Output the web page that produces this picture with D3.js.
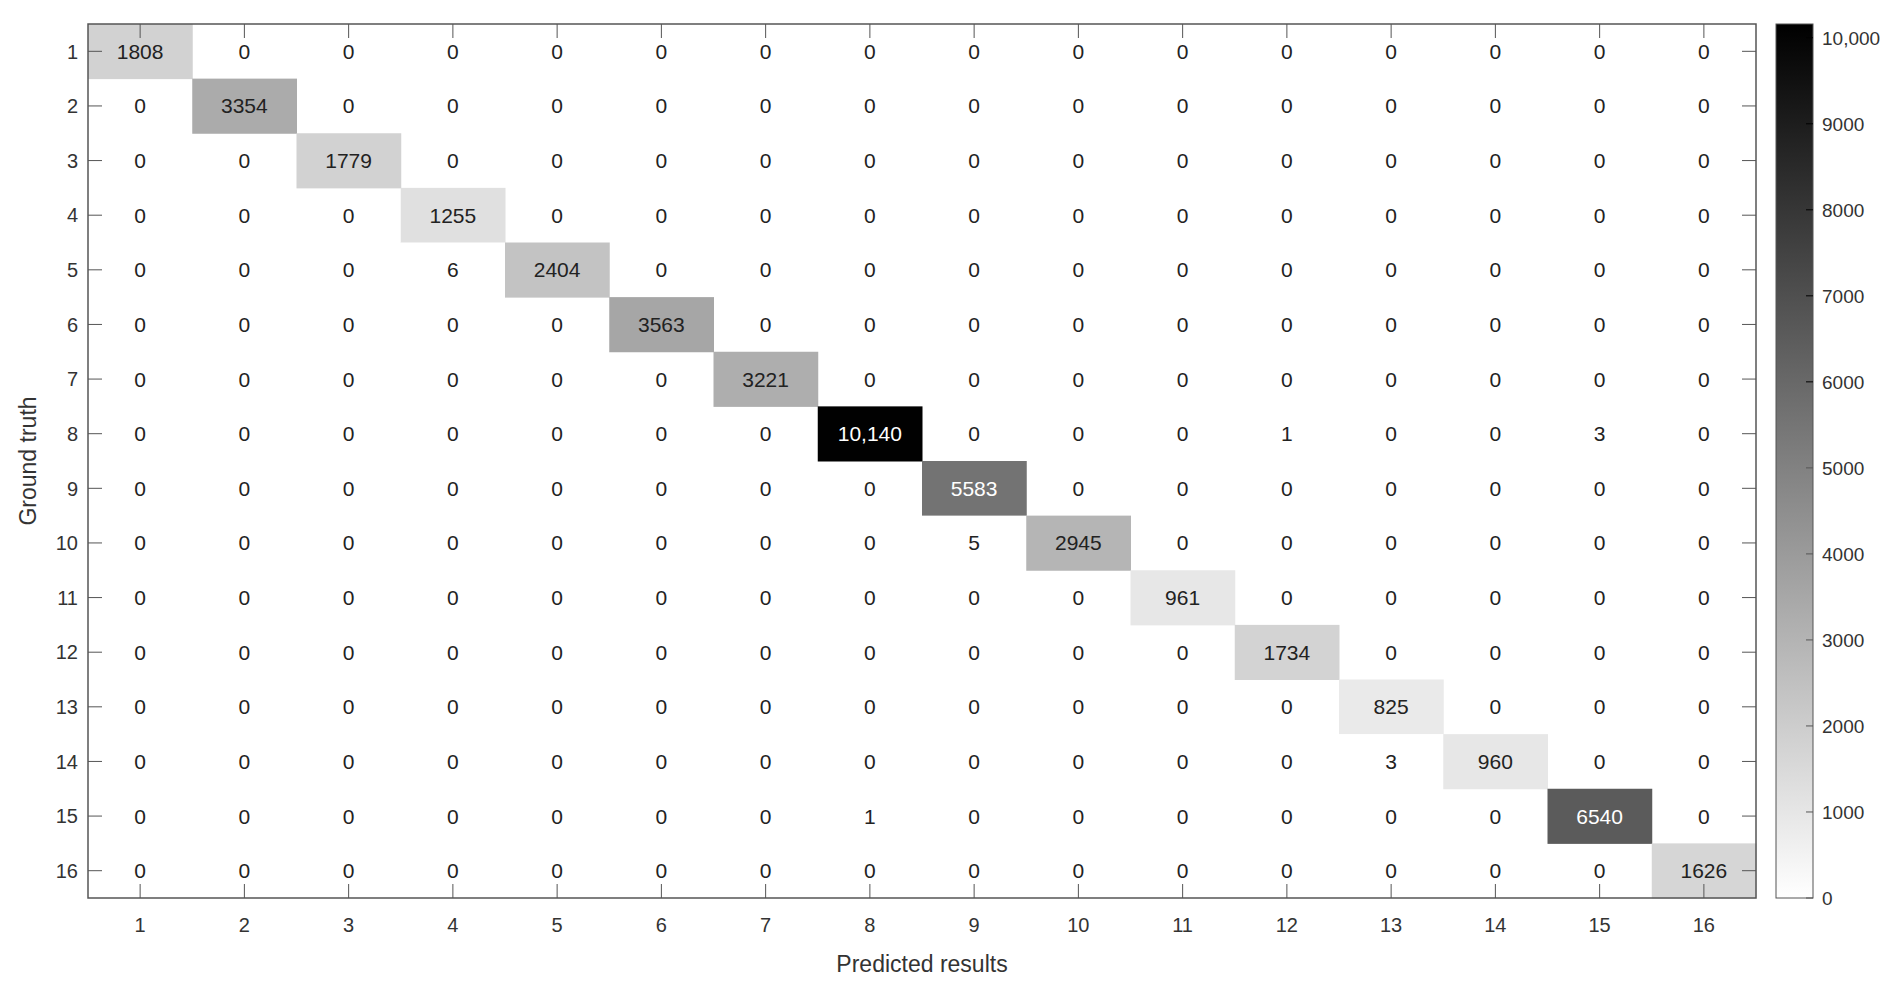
<!DOCTYPE html>
<html><head><meta charset="utf-8">
<script src="https://cdn.jsdelivr.net/npm/d3@7"></script>
<style>body{margin:0;background:#fff}svg{display:block}text{font-family:"Liberation Sans",Arial,sans-serif}</style>
</head><body><svg id="c" width="1899" height="988"></svg>
<script>
const classes = d3.range(1,17);
const diagonal = [1808,3354,1779,1255,2404,3563,3221,10140,5583,2945,961,1734,825,960,6540,1626];
// off-diagonal non-zero entries: [row, col, value]
const offDiag = [[5,4,6],[8,12,1],[8,15,3],[10,9,5],[14,13,3],[15,8,1]];
const cbTicks = [0,1000,2000,3000,4000,5000,6000,7000,8000,9000,10000];

const matrix = classes.map((r,i)=>classes.map((c,j)=> i===j?diagonal[i]:0));
offDiag.forEach(([r,c,v])=>{matrix[r-1][c-1]=v;});

const svg=d3.select("#c");
const L=88,T=24,R=1756,B=898;
const x=d3.scaleBand().domain(classes).range([L,R]);
const y=d3.scaleBand().domain(classes).range([T,B]);
const vmax=10160;
const color=v=>{const g=Math.round(255*(1-v/vmax));return `rgb(${g},${g},${g})`;};
const fmt=v=>v>=10000?d3.format(",")(v):String(v);
const cells=[];
matrix.forEach((row,i)=>row.forEach((v,j)=>cells.push({r:classes[i],c:classes[j],v})));

svg.append("g").selectAll("rect").data(cells.filter(d=>d.v>0)).join("rect")
 .attr("x",d=>x(d.c)).attr("y",d=>y(d.r)).attr("width",x.bandwidth()+0.5).attr("height",y.bandwidth()+0.5)
 .attr("fill",d=>color(d.v));

const axc="#555";
// inward ticks
const tl=14;
classes.forEach(k=>{
  const cx=x(k)+x.bandwidth()/2, cy=y(k)+y.bandwidth()/2;
  svg.append("line").attr("x1",cx).attr("x2",cx).attr("y1",T).attr("y2",T+tl).attr("stroke",axc);
  svg.append("line").attr("x1",cx).attr("x2",cx).attr("y1",B).attr("y2",B-tl).attr("stroke",axc);
  svg.append("line").attr("y1",cy).attr("y2",cy).attr("x1",L).attr("x2",L+tl).attr("stroke",axc);
  svg.append("line").attr("y1",cy).attr("y2",cy).attr("x1",R).attr("x2",R-tl).attr("stroke",axc);
});
svg.append("rect").attr("x",L).attr("y",T).attr("width",R-L).attr("height",B-T).attr("fill","none").attr("stroke",axc).attr("stroke-width",1.5);

svg.append("g").selectAll("text").data(cells).join("text")
 .attr("x",d=>x(d.c)+x.bandwidth()/2).attr("y",d=>y(d.r)+y.bandwidth()/2).attr("dy","0.36em")
 .attr("text-anchor","middle").attr("font-size",21)
 .attr("fill",d=>d.v>5000?"#fff":"#222").text(d=>fmt(d.v));

// axis labels
svg.append("g").selectAll("text").data(classes).join("text")
 .attr("x",d=>x(d)+x.bandwidth()/2).attr("y",B+34).attr("text-anchor","middle").attr("font-size",20).attr("fill","#333").text(d=>d);
svg.append("g").selectAll("text").data(classes).join("text")
 .attr("x",L-10).attr("y",d=>y(d)+y.bandwidth()/2).attr("dy","0.36em").attr("text-anchor","end").attr("font-size",20).attr("fill","#333").text(d=>d);
svg.append("text").attr("x",(L+R)/2).attr("y",972).attr("text-anchor","middle").attr("font-size",23).attr("fill","#333").text("Predicted results");
svg.append("text").attr("transform",`translate(36,${(T+B)/2}) rotate(-90)`).attr("text-anchor","middle").attr("font-size",23).attr("fill","#333").text("Ground truth");

// colorbar
const cbx=1776,cbw=37;
const cy2=d3.scaleLinear().domain([0,vmax]).range([B,T]);
const defs=svg.append("defs");
const gr=defs.append("linearGradient").attr("id","g").attr("x1",0).attr("x2",0).attr("y1",1).attr("y2",0);
gr.append("stop").attr("offset",0).attr("stop-color","#fff");
gr.append("stop").attr("offset",1).attr("stop-color","#000");
svg.append("rect").attr("x",cbx).attr("y",T).attr("width",cbw).attr("height",B-T).attr("fill","url(#g)").attr("stroke",axc);
cbTicks.forEach(t=>{
  svg.append("line").attr("x1",cbx+cbw-7).attr("x2",cbx+cbw).attr("y1",cy2(t)).attr("y2",cy2(t)).attr("stroke",t>5000?"#000":axc);
  svg.append("text").attr("x",cbx+cbw+9).attr("y",cy2(t)).attr("dy","0.36em").attr("font-size",19).attr("fill","#333").text(t>=10000?d3.format(",")(t):t);
});
</script></body></html>
